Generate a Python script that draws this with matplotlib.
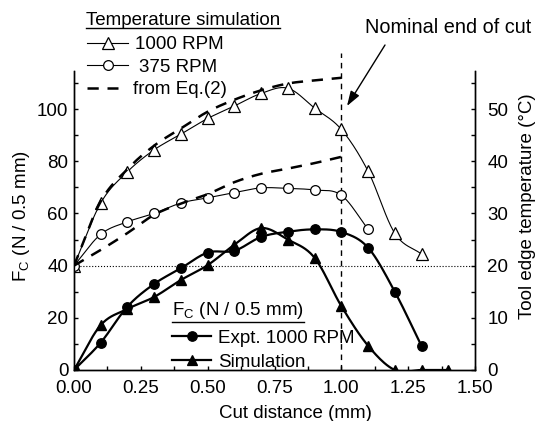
import numpy as np
import matplotlib
matplotlib.use("Agg")
import matplotlib.pyplot as plt
from matplotlib.lines import Line2D
from matplotlib.ticker import MultipleLocator

plt.rcParams['font.family'] = ['Liberation Sans', 'DejaVu Sans']
plt.rcParams['mathtext.fontset'] = 'custom'
plt.rcParams['mathtext.rm'] = 'Liberation Sans'
plt.rcParams['mathtext.it'] = 'Liberation Sans:italic'

# ---------------- data ----------------
# Temperature simulation (deg C, right axis)
x_t1000 = [0.0, 0.1, 0.2, 0.3, 0.4, 0.5, 0.6, 0.7, 0.8, 0.9, 1.0, 1.1, 1.2, 1.3]
t_1000 = [20, 32, 38, 42.2, 45.2, 48.2, 50.6, 53, 54, 50.2, 46.1, 38.1, 26.2, 22.2]
x_t375 = [0.0, 0.1, 0.2, 0.3, 0.4, 0.5, 0.6, 0.7, 0.8, 0.9, 1.0, 1.1]
t_375 = [20, 26, 28.4, 30, 32, 33, 34, 34.9, 34.8, 34.5, 33.5, 27]
x_eq = [0.0, 0.1, 0.2, 0.3, 0.4, 0.5, 0.6, 0.7, 0.8, 0.9, 1.0]
t_eq_hi = [20, 32.3, 38.5, 43, 46.3, 49.5, 51.8, 53.6, 54.9, 55.5, 56]
t_eq_lo = [20, 23, 26.25, 29.75, 31.9, 33.7, 36, 37.6, 38.6, 39.65, 40.85]
# Cutting force (N / 0.5 mm, left axis)
x_exp = [0.0, 0.1, 0.2, 0.3, 0.4, 0.5, 0.6, 0.7, 0.8, 0.9, 1.0, 1.1, 1.2, 1.3]
fc_exp = [0, 10.5, 24.3, 33, 39, 45, 45.7, 51, 53, 53.9, 52.9, 46.9, 30, 9.2]
x_sim = [0.0, 0.1, 0.2, 0.3, 0.4, 0.5, 0.6, 0.7, 0.8, 0.9, 1.0, 1.1, 1.2, 1.3, 1.4]
fc_sim = [0, 17.2, 23.4, 28, 34.5, 40.2, 48, 54.4, 50, 43, 24.5, 9.3, 0, 0, 0]
x_ticks = [0.0, 0.25, 0.5, 0.75, 1.0, 1.25, 1.5]
x_ticklabels = ['0.00', '0.25', '0.50', '0.75', '1.00', '1.25', '1.50']
ref_level = 40      # F_C level of the dotted line (= 20 deg C)
end_of_cut = 1.0

FS = 13.5


def smooth(x, y, n=20):
    """Cubic Hermite (Catmull-Rom) curve through the given points."""
    x = np.asarray(x, float)
    y = np.asarray(y, float)
    m = np.zeros_like(y)
    m[1:-1] = (y[2:] - y[:-2]) / (x[2:] - x[:-2])
    m[0] = (y[1] - y[0]) / (x[1] - x[0])
    m[-1] = (y[-1] - y[-2]) / (x[-1] - x[-2])
    xs, ys = [], []
    for i in range(len(x) - 1):
        h = x[i + 1] - x[i]
        t = np.linspace(0, 1, n, endpoint=False)
        h00 = 2 * t**3 - 3 * t**2 + 1
        h10 = t**3 - 2 * t**2 + t
        h01 = -2 * t**3 + 3 * t**2
        h11 = t**3 - t**2
        xs.append(x[i] + t * h)
        ys.append(h00 * y[i] + h10 * h * m[i] + h01 * y[i + 1] + h11 * h * m[i + 1])
    xs.append([x[-1]])
    ys.append([y[-1]])
    return np.concatenate(xs), np.concatenate(ys)


W, H = 543, 421
fig = plt.figure(figsize=(W / 100, H / 100), dpi=100)


def fx(px):
    return px / W


def fy(py):
    return 1 - py / H


ax = fig.add_axes([fx(74), fy(370), (475 - 74) / W, (370 - 71) / H])
ax2 = ax.twinx()
ax.set_xlim(0, 1.5)
ax.set_ylim(0, 114.6)
ax2.set_ylim(0, 57.3)
for a in (ax, ax2):
    a.spines['top'].set_visible(False)
    for s in a.spines.values():
        s.set_linewidth(1.0)

ax.set_xticks(x_ticks)
ax.set_xticklabels(x_ticklabels)
ax.xaxis.set_minor_locator(MultipleLocator(0.125))
ax.yaxis.set_major_locator(MultipleLocator(20))
ax.yaxis.set_minor_locator(MultipleLocator(10))
ax2.yaxis.set_major_locator(MultipleLocator(10))
ax2.yaxis.set_minor_locator(MultipleLocator(5))
ax.tick_params(axis='both', which='both', direction='in', length=3.2, width=1, labelsize=FS)
ax.tick_params(axis='x', which='both', pad=7.5)
ax.tick_params(axis='y', which='both', pad=4)
ax.tick_params(axis='both', which='both', top=False, right=False)
ax2.tick_params(axis='y', which='both', direction='in', length=3.2, width=1, labelsize=FS, pad=9)

# reference lines
ax.axhline(ref_level, ls=':', lw=0.8, color='k')
ax.plot([end_of_cut, end_of_cut], [0, 121.5], color='k', lw=1.0, dashes=(4, 3.5), clip_on=False)

# temperature curves (right axis)
sx, sy = smooth(x_t1000, t_1000)
ax2.plot(sx, sy, color='k', lw=0.8)
ax2.plot(x_t1000, t_1000, ls='none', marker='^', ms=8, mfc='white', mec='k', mew=0.9)
sx, sy = smooth(x_t375, t_375)
ax2.plot(sx, sy, color='k', lw=0.8)
ax2.plot(x_t375, t_375, ls='none', marker='o', ms=7, mfc='white', mec='k', mew=0.9)
sx, sy = smooth(x_eq, t_eq_hi)
ax2.plot(sx, sy, color='k', lw=1.8, dashes=(4.5, 3.5))
sx, sy = smooth(x_eq, t_eq_lo)
ax2.plot(sx, sy, color='k', lw=1.8, dashes=(4.5, 3.5))

# force curves (left axis)
sx, sy = smooth(x_exp, fc_exp)
ax.plot(sx, sy, color='k', lw=1.6)
ax.plot(x_exp, fc_exp, ls='none', marker='o', ms=6.8, color='k')
sx, sy = smooth(x_sim, fc_sim)
ax.plot(sx, sy, color='k', lw=1.6)
ax.plot(x_sim, fc_sim, ls='none', marker='^', ms=7, color='k')

# axis labels
fig.text(fx(295), fy(418), 'Cut distance (mm)', ha='center', va='baseline', fontsize=FS)
fig.text(fx(22), fy(216), r'F$_\mathrm{C}$ (N / 0.5 mm)', rotation=90, ha='center', va='center', fontsize=FS)
fig.text(fx(528), fy(206), 'Tool edge temperature (°C)', rotation=90, ha='center', va='center', fontsize=FS)

# annotation
fig.text(fx(365), fy(33), 'Nominal end of cut', ha='left', va='baseline', fontsize=14.3)
ax.annotate('', xy=(fx(347), fy(106)), xytext=(fx(385), fy(45)),
            xycoords='figure fraction', textcoords='figure fraction',
            arrowprops=dict(arrowstyle='-|>,head_length=0.9,head_width=0.3', color='k', lw=1.0,
                            shrinkA=0, shrinkB=0, mutation_scale=10))


def legend_line(x0, x1, y, marker=None, filled=False, lw=1.0, dashes=None, ms=7):
    kw = dict(color='k', lw=lw)
    if dashes is not None:
        kw['dashes'] = dashes
    fig.add_artist(Line2D([fx(x0), fx(x1)], [fy(y), fy(y)], transform=fig.transFigure, **kw))
    if marker:
        fig.add_artist(Line2D([fx((x0 + x1) / 2)], [fy(y)], transform=fig.transFigure, ls='none',
                              marker=marker, ms=ms, mfc='k' if filled else 'white', mec='k', mew=0.9))


def underlined(x, y, s, uy, size=FS):
    t = fig.text(fx(x), fy(y), s, ha='left', va='baseline', fontsize=size)
    fig.canvas.draw()
    bb = t.get_window_extent()
    x0 = bb.x0 / W
    x1 = bb.x1 / W
    fig.add_artist(Line2D([x0, x1], [fy(uy), fy(uy)], transform=fig.transFigure, color='k', lw=1.0))


# top legend (temperature simulation)
underlined(86, 25, 'Temperature simulation', 28)
legend_line(87, 128, 43, marker='^', lw=0.8, ms=8)
fig.text(fx(135), fy(49), '1000 RPM', ha='left', va='baseline', fontsize=FS)
legend_line(87, 128, 65, marker='o', lw=0.8, ms=7)
fig.text(fx(139), fy(72), '375 RPM', ha='left', va='baseline', fontsize=FS)
legend_line(87, 118, 88, lw=1.8, dashes=(4.5, 3.5))
fig.text(fx(133), fy(94.5), 'from Eq.(2)', ha='left', va='baseline', fontsize=FS)

# bottom legend (cutting force)
underlined(172, 315, r'F$_\mathrm{C}$ (N / 0.5 mm)', 321.5)
legend_line(172, 211, 336, marker='o', filled=True, lw=1.6, ms=6.8)
fig.text(fx(218), fy(342.7), 'Expt. 1000 RPM', ha='left', va='baseline', fontsize=FS)
legend_line(172, 211, 360, marker='^', filled=True, lw=1.6, ms=7)
fig.text(fx(218), fy(366.7), 'Simulation', ha='left', va='baseline', fontsize=FS)

fig.savefig('out.png', dpi=100)
